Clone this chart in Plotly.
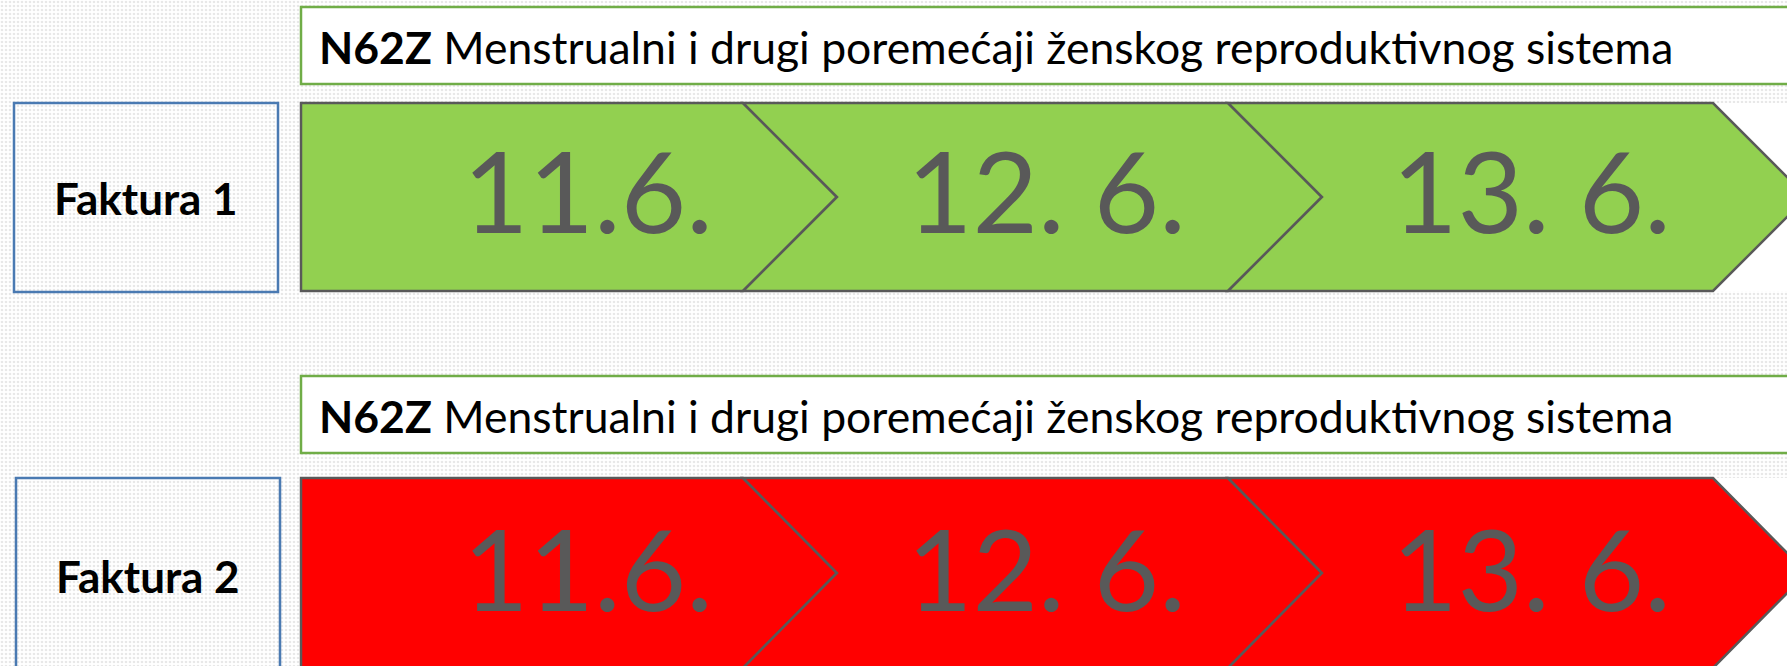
import plotly.graph_objects as go

# ---- content ----
rows = ["Faktura 1", "Faktura 2"]
dates = ["11.6.", "12. 6.", "13. 6."]
row_colors = ["#92D050", "#FF0000"]
code = "N62Z"
diagnosis = "Menstrualni i drugi poremećaji ženskog reproduktivnog sistema"

# ---- layout constants (pixels) ----
W, H = 1787, 666
row_top = [103, 478]
row_h = [188, 190]
hdr_top = [7, 376]
hdr_h = 77
box_x = [(14, 278), (16, 280)]
chev_x0 = 301
chev_step = 485
chev_first = 442
notch = 94
date_cx = [588, 1046, 1531]

fig = go.Figure()

# dotted background
fig.add_trace(go.Scatter(
    x=[0, W, W, 0, 0], y=[0, 0, H, H, 0], mode="lines", fill="toself",
    line=dict(width=0), fillcolor="white",
    fillpattern=dict(shape=".", size=4, solidity=0.35, fgcolor="#d2d2d2", bgcolor="#ffffff"),
    hoverinfo="skip", showlegend=False))

shapes = []
annotations = []
for r, label in enumerate(rows):
    top = row_top[r]
    bot = top + row_h[r]
    mid = (top + bot) / 2
    # white area behind arrow tips
    shapes.append(dict(type="rect", x0=1700, x1=W + 5, y0=top, y1=bot,
                       fillcolor="white", line=dict(width=0), layer="above"))
    # header box
    shapes.append(dict(type="rect", x0=301, x1=W + 20, y0=hdr_top[r], y1=hdr_top[r] + hdr_h,
                       fillcolor="white", line=dict(color="#70AD47", width=2.5)))
    annotations.append(dict(x=317, y=hdr_top[r] + hdr_h / 2 + 1, xref="x", yref="y",
                            text=f"<b>{code}</b> {diagnosis}", showarrow=False,
                            xanchor="left", yanchor="middle",
                            font=dict(family="Lato", size=44.5, color="#000000")))
    # Faktura box
    x0, x1 = box_x[r]
    shapes.append(dict(type="rect", x0=x0, x1=x1, y0=top, y1=top + 189 if r == 0 else H + 10,
                       fillcolor="rgba(0,0,0,0)", line=dict(color="#4A7AB2", width=2.5)))
    annotations.append(dict(x=(x0 + x1) / 2, y=mid + (1 if r == 0 else 3), xref="x", yref="y",
                            text=f"<b>{label}</b>", showarrow=False,
                            xanchor="center", yanchor="middle",
                            font=dict(family="Lato", size=44, color="#000000")))
    # chevrons
    for i, d in enumerate(dates):
        if i == 0:
            left = chev_x0
            right = chev_x0 + chev_first
            path = (f"M{left},{top} L{right},{top} L{right + notch},{mid} "
                    f"L{right},{bot} L{left},{bot} Z")
        else:
            left = chev_x0 + chev_first + (i - 1) * chev_step
            right = left + chev_step
            path = (f"M{left},{top} L{right},{top} L{right + notch},{mid} "
                    f"L{right},{bot} L{left},{bot} L{left + notch},{mid} Z")
        shapes.append(dict(type="path", path=path, fillcolor=row_colors[r],
                           line=dict(color="#595959", width=2.5)))
        annotations.append(dict(x=date_cx[i], y=mid - (8 if r == 0 else 6), xref="x", yref="y",
                                text=d, showarrow=False, xanchor="center", yanchor="middle",
                                font=dict(family="Lato", size=113, color="#595959")))

fig.update_layout(
    width=W, height=H, margin=dict(l=0, r=0, t=0, b=0),
    paper_bgcolor="white", plot_bgcolor="white",
    xaxis=dict(range=[0, W], visible=False, fixedrange=True),
    yaxis=dict(range=[H, 0], visible=False, fixedrange=True),
    shapes=shapes, annotations=annotations, showlegend=False,
)

fig.write_html("out.html", config={"displayModeBar": False},
               post_script="document.body.style.margin='0px';document.body.style.overflow='hidden';")
